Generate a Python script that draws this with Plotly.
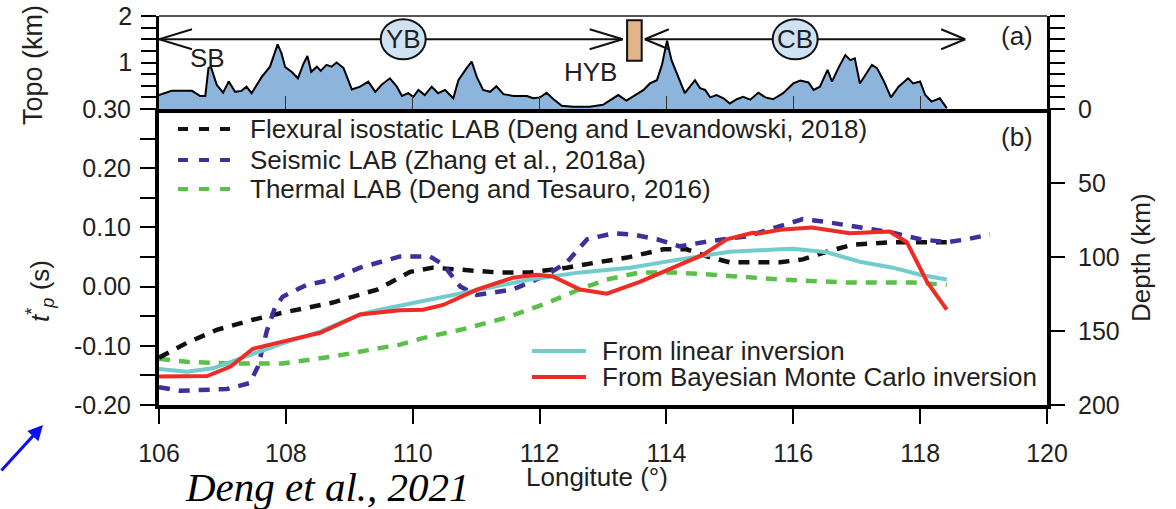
import plotly.graph_objects as go

# ---------------- data ----------------
# Topography along the transect (km)
topo_lon = [106.00, 106.09, 106.20, 106.36, 106.52, 106.65, 106.73, 106.78, 106.82, 106.91,
            107.01, 107.10, 107.20, 107.30, 107.38, 107.46, 107.62, 107.75, 107.87, 107.93,
            107.99, 108.09, 108.19, 108.28, 108.34, 108.40, 108.49, 108.55, 108.64, 108.72,
            108.80, 108.91, 109.04, 109.17, 109.30, 109.41, 109.51, 109.64, 109.75, 109.83,
            109.93, 110.01, 110.09, 110.19, 110.30, 110.40, 110.51, 110.64, 110.72, 110.85,
            110.93, 111.01, 111.11, 111.22, 111.32, 111.43, 111.59, 111.80, 111.90, 112.01,
            112.11, 112.22, 112.35, 112.53, 112.79, 113.00, 113.16, 113.24, 113.37, 113.50,
            113.64, 113.74, 113.85, 113.93, 114.01, 114.08, 114.19, 114.29, 114.37, 114.45,
            114.53, 114.61, 114.69, 114.79, 114.90, 115.00, 115.11, 115.21, 115.32, 115.45,
            115.56, 115.68, 115.84, 116.00, 116.11, 116.24, 116.32, 116.42, 116.54, 116.61,
            116.71, 116.82, 116.90, 116.97, 117.05, 117.13, 117.24, 117.32, 117.42, 117.54,
            117.66, 117.81, 117.89, 118.00, 118.08, 118.18, 118.31, 118.42]
topo_km = [0.30, 0.34, 0.39, 0.39, 0.39, 0.28, 0.28, 0.88, 0.90, 0.52,
           0.35, 0.59, 0.37, 0.39, 0.48, 0.34, 0.69, 0.91, 1.39, 1.20,
           0.90, 0.80, 0.66, 0.98, 1.14, 0.80, 0.91, 0.82, 0.95, 0.91,
           1.00, 0.88, 0.42, 0.48, 0.59, 0.37, 0.52, 0.66, 0.48, 0.28,
           0.34, 0.26, 0.41, 0.30, 0.48, 0.34, 0.41, 0.23, 0.62, 0.88,
           1.02, 0.69, 0.41, 0.37, 0.49, 0.32, 0.28, 0.28, 0.23, 0.25,
           0.35, 0.21, 0.07, 0.05, 0.05, 0.09, 0.23, 0.30, 0.18, 0.30,
           0.41, 0.55, 0.62, 0.95, 1.47, 1.05, 0.66, 0.34, 0.48, 0.62,
           0.45, 0.41, 0.25, 0.30, 0.23, 0.12, 0.21, 0.26, 0.20, 0.35,
           0.25, 0.21, 0.34, 0.55, 0.61, 0.57, 0.41, 0.48, 0.84, 0.59,
           0.88, 1.16, 1.05, 1.09, 0.55, 0.73, 0.95, 0.88, 0.62, 0.25,
           0.48, 0.66, 0.55, 0.59, 0.30, 0.16, 0.23, 0.02]

# t*_p predicted from LAB models (s)
flex_lon = [106.00, 106.44, 106.91, 107.48, 107.95, 108.74, 109.44, 109.96, 110.32, 110.79,
            111.33, 111.85, 112.43, 112.91, 113.38, 113.95, 114.32, 114.64, 115.00, 115.79,
            116.15, 116.53, 116.94, 117.57, 118.42]
flex_t = [-0.120, -0.095, -0.073, -0.056, -0.044, -0.027, -0.005, 0.025, 0.032, 0.028,
          0.024, 0.024, 0.032, 0.041, 0.049, 0.063, 0.063, 0.051, 0.041, 0.041,
          0.046, 0.059, 0.071, 0.075, 0.075]

seis_lon = [106.00, 106.33, 107.07, 107.43, 107.56, 107.70, 107.83, 107.95, 108.33, 108.74,
            109.17, 109.64, 109.80, 110.27, 110.48, 110.75, 111.01, 111.58, 112.12, 112.43,
            112.75, 113.16, 113.47, 113.85, 114.21, 114.64, 115.27, 115.79, 116.15, 116.53,
            117.05, 117.57, 118.00, 118.42, 118.74, 119.10]
seis_t = [-0.170, -0.176, -0.173, -0.163, -0.135, -0.075, -0.035, -0.017, 0.003, 0.012,
          0.032, 0.046, 0.051, 0.051, 0.037, 0.000, -0.014, -0.005, 0.020, 0.041,
          0.080, 0.090, 0.088, 0.080, 0.068, 0.076, 0.085, 0.102, 0.114, 0.109,
          0.100, 0.091, 0.080, 0.075, 0.080, 0.088]

therm_lon = [106.00, 106.44, 107.17, 107.95, 108.74, 109.80, 110.16, 110.79, 111.49, 112.16,
             112.64, 113.06, 113.58, 114.10, 114.73, 115.79, 116.84, 117.88, 118.42]
therm_t = [-0.122, -0.127, -0.130, -0.130, -0.118, -0.098, -0.087, -0.072, -0.052, -0.026,
           -0.004, 0.012, 0.024, 0.024, 0.020, 0.012, 0.007, 0.007, 0.003]

# t*_p inversion results (s)
lin_lon = [106.00, 106.44, 106.85, 107.48, 107.95, 108.54, 109.17, 109.48, 110.27, 111.06,
           111.85, 112.64, 113.43, 114.21, 115.00, 115.79, 116.00, 116.53, 117.05, 117.57,
           118.00, 118.42]
lin_t = [-0.139, -0.144, -0.138, -0.113, -0.096, -0.076, -0.047, -0.039, -0.022, -0.005,
         0.012, 0.024, 0.032, 0.046, 0.059, 0.063, 0.064, 0.058, 0.042, 0.032,
         0.020, 0.012]

bmc_lon = [106.00, 106.76, 107.13, 107.48, 107.95, 108.54, 109.17, 109.80, 110.16, 110.48,
           111.01, 111.58, 111.96, 112.21, 112.64, 113.06, 113.58, 114.10, 114.58, 114.95,
           115.36, 115.48, 115.79, 116.29, 116.89, 117.52, 117.79, 118.11, 118.42]
bmc_t = [-0.152, -0.151, -0.135, -0.105, -0.093, -0.078, -0.047, -0.040, -0.039, -0.031,
         -0.005, 0.015, 0.020, 0.017, -0.005, -0.012, 0.008, 0.032, 0.054, 0.080,
         0.091, 0.090, 0.096, 0.100, 0.090, 0.093, 0.075, 0.008, -0.039]

# axes
lon_ticks = [106, 108, 110, 112, 114, 116, 118, 120]
t_ticks = [-0.20, -0.15, -0.10, -0.05, 0.00, 0.05, 0.10, 0.15, 0.20, 0.25, 0.30]
t_labels = ["-0.20", " ", "-0.10", " ", "0.00", " ", "0.10", " ", "0.20", " ", "0.30"]
topo_ticks = [0, 0.25, 0.5, 0.75, 1, 1.25, 1.5, 1.75, 2]
topo_labels = [" ", " ", " ", " ", "1", " ", " ", " ", "2"]
depth_ticks = [0, 50, 100, 150, 200]

# basin extents along the profile (longitude) and marker level (km)
yb_span = [106.0, 113.31]
cb_span = [113.66, 118.71]
basin_level = 1.5
basin_names = ["YB", "CB"]
basin_centres = [109.85, 116.03]
hyb_box = [113.38, 113.61, 1.04, 1.91]
side_labels = ["SB", "HYB"]
side_lon = [106.77, 112.80]
side_km = [1.10, 0.80]

# ---------------- styling ----------------
FONT = "Liberation Sans"
TXT = "#231f20"
FS = 25
LFS = 26
BLACK = "#111111"
BLUE = "#3b309c"
GREEN = "#5cbf4a"
CYAN = "#72cccb"
RED = "#ee2b24"
DASH = "11px,9px"

W, H = 1176, 509
L, R, T, B = 159, 129, 16, 104
PW, PH = W - L - R, H - T - B


def px(xp):
    return (xp - L) / PW


def py(yp):
    return (H - B - yp) / PH


def label(text, x, y, size=LFS, angle=0, family=FONT, color=TXT, xanchor="center"):
    return dict(text=text, xref="paper", yref="paper", x=px(x), y=py(y),
                xanchor=xanchor, yanchor="middle", textangle=angle, showarrow=False,
                font=dict(family=family, size=size, color=color))


split = py(109)

fig = go.Figure()

# topography
fig.add_trace(go.Scatter(x=topo_lon, y=topo_km, mode="lines", fill="tozeroy",
                         fillcolor="#8db4da", line=dict(color="black", width=2),
                         xaxis="x", yaxis="y", showlegend=False, hoverinfo="skip"))

# LAB-derived curves
for lon, t, col in [(therm_lon, therm_t, GREEN), (flex_lon, flex_t, BLACK), (seis_lon, seis_t, BLUE)]:
    fig.add_trace(go.Scatter(x=lon, y=t, mode="lines", line=dict(color=col, width=4.5, dash=DASH),
                             xaxis="x2", yaxis="y2", showlegend=False))
fig.add_trace(go.Scatter(x=lin_lon, y=lin_t, mode="lines", line=dict(color=CYAN, width=4),
                         xaxis="x2", yaxis="y2", showlegend=False))
fig.add_trace(go.Scatter(x=bmc_lon, y=bmc_t, mode="lines", line=dict(color=RED, width=4),
                         xaxis="x2", yaxis="y2", showlegend=False))
# empty trace so the depth axis is drawn
fig.add_trace(go.Scatter(x=[None], y=[None], xaxis="x2", yaxis="y3", showlegend=False))

shapes = []
# top frame line of panel (a)
shapes.append(dict(type="line", xref="paper", yref="paper", x0=0, x1=1, y0=1, y1=1,
                   line=dict(color="#555555", width=2)))
# basin span arrows
for span, head in [(yb_span, 33), (cb_span, 24)]:
    shapes.append(dict(type="line", xref="x", yref="y", x0=span[0], x1=span[1],
                       y0=basin_level, y1=basin_level, line=dict(color=BLACK, width=2)))
    for end, sgn in [(span[0], 1), (span[1], -1)]:
        for hw in (10, -10):
            shapes.append(dict(type="line", xref="x", yref="y",
                               xsizemode="pixel", xanchor=end, x0=0, x1=sgn * head,
                               ysizemode="pixel", yanchor=basin_level, y0=0, y1=hw,
                               line=dict(color=BLACK, width=2)))
# basin ellipses
for c in basin_centres:
    shapes.append(dict(type="circle", xref="x", yref="y",
                       xsizemode="pixel", xanchor=c, x0=-22.5, x1=22.5,
                       ysizemode="pixel", yanchor=basin_level, y0=-20, y1=20,
                       fillcolor="#cfe2f3", line=dict(color=BLACK, width=2)))
# HYB marker
shapes.append(dict(type="rect", xref="x", yref="y", x0=hyb_box[0], x1=hyb_box[1],
                   y0=hyb_box[2], y1=hyb_box[3], fillcolor="#e2b48b",
                   line=dict(color=BLACK, width=2)))

# legend samples
legend_a = [("Flexural isostatic LAB (Deng and Levandowski, 2018)", BLACK, 129),
            ("Seismic LAB (Zhang et al., 2018a)", BLUE, 160),
            ("Thermal LAB (Deng and Tesauro, 2016)", GREEN, 189)]
legend_b = [("From linear inversion", CYAN, 351),
            ("From Bayesian Monte Carlo inversion", RED, 377)]
annotations = []
for name, col, yy in legend_a:
    shapes.append(dict(type="line", xref="paper", yref="paper", x0=px(178), x1=px(233),
                       y0=py(yy), y1=py(yy), line=dict(color=col, width=4, dash="10px,11px")))
    annotations.append(label(name, 248, yy, xanchor="left"))
for name, col, yy in legend_b:
    shapes.append(dict(type="line", xref="paper", yref="paper", x0=px(532), x1=px(586),
                       y0=py(yy), y1=py(yy), line=dict(color=col, width=4)))
    annotations.append(label(name, 600, yy, xanchor="left"))

# labels inside panel (a)
for name, c in zip(basin_names, basin_centres):
    annotations.append(dict(text=name, xref="x", yref="y", x=c, y=basin_level,
                            xanchor="center", yanchor="middle", showarrow=False,
                            font=dict(family=FONT, size=LFS, color=TXT)))
for name, lo, km in zip(side_labels, side_lon, side_km):
    annotations.append(dict(text=name, xref="x", yref="y", x=lo, y=km,
                            xanchor="center", yanchor="middle", showarrow=False,
                            font=dict(family=FONT, size=LFS, color=TXT)))

# panel tags and axis titles
annotations += [
    label("(a)", 1017, 36),
    label("(b)", 1017, 137),
    label("Topo (km)", 33, 65, size=27, angle=-90),
    label("<i>t</i><sup>*</sup><sub><i>p</i></sub> (s)", 40, 291, size=26, angle=-90),
    label("Depth (km)", 1141, 258, size=26, angle=-90),
    label("Longitute (°)", 597, 477, size=26),
    label("<i>Deng et al., 2021</i>", 327, 487, size=41, family="Liberation Serif", color="black"),
    dict(text="", xref="paper", yref="paper", x=px(43), y=py(425), ax=-50, ay=47,
         showarrow=True, arrowhead=2, arrowsize=1, arrowwidth=3, arrowcolor="#0a10f0"),
]

tickfont = dict(family=FONT, size=FS, color=TXT)
common = dict(showgrid=False, zeroline=False, automargin=False)
fig.update_layout(
    template="none",
    width=W, height=H, autosize=False,
    margin=dict(l=L, r=R, t=T, b=B, pad=0),
    paper_bgcolor="white", plot_bgcolor="white",
    showlegend=False,
    xaxis=dict(domain=[0, 1], anchor="y", range=[106, 120], tickvals=lon_ticks,
               showticklabels=False, ticks="inside", ticklen=13, tickwidth=1.3,
               tickcolor="#333333", showline=True, linewidth=3.5, linecolor="black", **common),
    yaxis=dict(domain=[split, 1], anchor="x", range=[0, 2], tickvals=topo_ticks,
               ticktext=topo_labels, ticks="outside", ticklen=15, tickwidth=2,
               tickcolor="black", showline=True, linewidth=2.5, linecolor="black",
               mirror="ticks", tickfont=tickfont, ticklabelstandoff=4, **common),
    xaxis2=dict(domain=[0, 1], anchor="y2", range=[106, 120], tickvals=lon_ticks,
                ticks="outside", ticklen=15, tickwidth=2, tickcolor="black",
                showline=True, linewidth=4, linecolor="black",
                tickfont=tickfont, ticklabelstandoff=8, **common),
    yaxis2=dict(domain=[0, split], anchor="x2", range=[-0.2, 0.3], tickvals=t_ticks,
                ticktext=t_labels, ticks="outside", ticklen=15, tickwidth=2,
                tickcolor="black", showline=True, linewidth=4, linecolor="black",
                tickfont=tickfont, ticklabelstandoff=4, **common),
    yaxis3=dict(overlaying="y2", side="right", anchor="x2", range=[200, 0],
                tickvals=depth_ticks, ticks="outside", ticklen=14, tickwidth=2,
                tickcolor="black", showline=True, linewidth=4, linecolor="black",
                tickfont=tickfont, ticklabelstandoff=8, **common),
    shapes=shapes,
    annotations=annotations,
)

fig.write_html("out.html")
